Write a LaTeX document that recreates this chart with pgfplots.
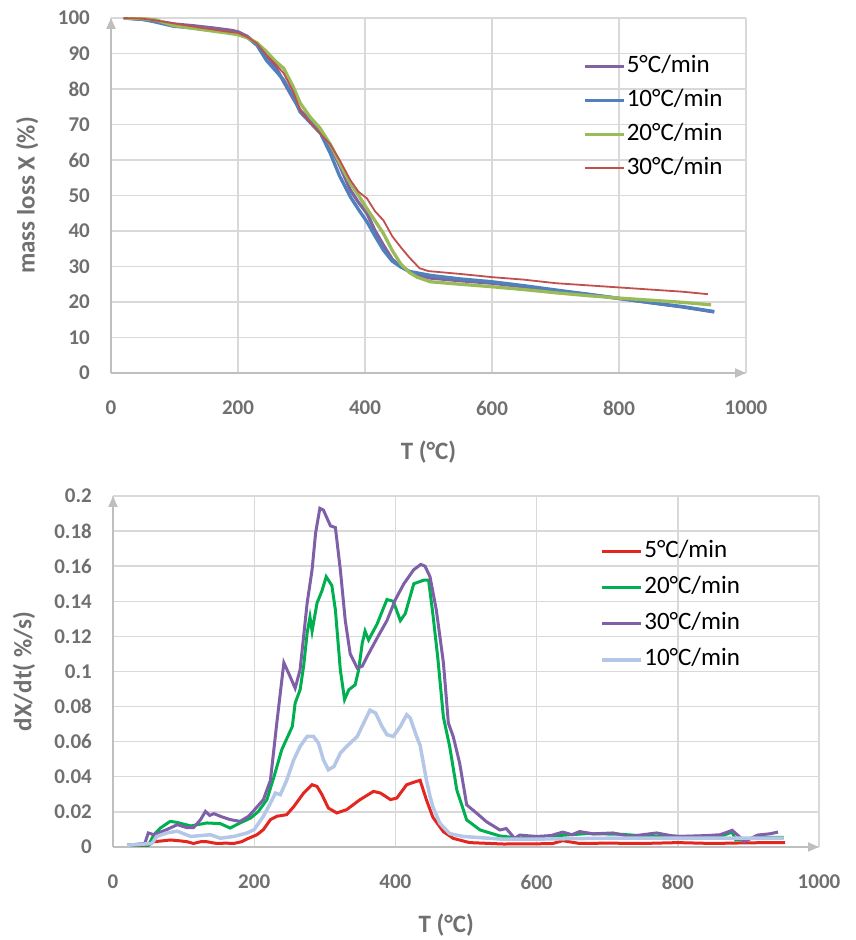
\documentclass[border=0pt]{standalone}
\usepackage{fontspec}
\setmainfont{Carlito}
\usepackage{pgfplots}
\pgfplotsset{compat=1.18}
\usetikzlibrary{arrows.meta}

\definecolor{tpurple}{HTML}{8064A2}
\definecolor{tblue}{HTML}{4F81BD}
\definecolor{tgreen}{HTML}{9BBB59}
\definecolor{tred}{HTML}{C0504D}
\definecolor{bred}{HTML}{E3261F}
\definecolor{bgreen}{HTML}{00B050}
\definecolor{bpurple}{HTML}{7F60A8}
\definecolor{bblue}{HTML}{B4C7E7}
\definecolor{axgray}{HTML}{BFBFBF}
\definecolor{gridgray}{HTML}{D9D9D9}
\definecolor{txtgray}{HTML}{707070}

\pgfplotsset{
  excel/.style={
    scale only axis,
    axis lines*=left,
    axis line style={draw=axgray, line width=2pt, -{Triangle[length=11pt,width=9pt]}},
    grid=major,
    grid style={draw=gridgray, line width=1.4pt},
    major tick length=0pt,
    xmin=0, xmax=1000,
    xtick={0,200,...,1000},
    scaled ticks=false,
    /pgf/number format/.cd, fixed, 1000 sep={}, assume math mode=true,
    /pgfplots/.cd,
    tick label style={font=\fontsize{21}{25}\selectfont\bfseries, text=txtgray},
    xticklabel style={anchor=center, yshift=-35pt},
    yticklabel style={anchor=east, inner sep=0pt, xshift=-21pt},
    label style={font=\fontsize{25}{30}\selectfont\bfseries, text=txtgray},
    legend image code/.code={\draw[##1] (0pt,0pt) -- (39pt,0pt);},
    legend cell align=left,
  }
}

\begin{document}
\begin{tikzpicture}
\useasboundingbox (0,0) rectangle (856pt,940pt);

% top: mass loss
\begin{axis}[excel,
  at={(111pt,567pt)}, anchor=south west,
  width=635pt, height=355pt,
  ymin=0, ymax=100, ytick={0,10,...,100},
  xlabel={T (°C)}, ylabel={mass loss X (\%)},
  xlabel style={at={(axis description cs:0.5,-0.2225)}, anchor=center},
  ylabel style={at={(axis description cs:-0.132,0.5)}, anchor=center},
  legend style={draw=none, fill=none, inner sep=0pt,
    at={(axis description cs:0.743,0.90)}, anchor=north west,
    font=\fontsize{25}{30}\selectfont, text=black,
    nodes={inner sep=1.5pt, text height=17pt, text depth=5pt},
    row sep=9pt},
]
\addplot[tpurple, line width=3.3pt] coordinates {
(20,100) (50,99.6) (80,98.9) (100,98.3) (130,97.8) (160,97.2) (190,96.5) (200,96.1)
(215,94.8) (230,92.5) (245,89.5) (260,86) (272,82) (287,77.3) (298,74) (314,71)
(330,67.8) (345,64) (360,58.5) (377,51.5) (390,48) (403,45) (416,40) (429,36)
(443,32) (456,30) (470,28.6) (486,27.3) (500,26.8) (550,26) (600,25.3) (650,24.3)
(700,23.2) (750,22.2) (800,21) (850,19.8) (900,18.6) (950,17.2)};
\addplot[tblue, line width=3.3pt] coordinates {
(20,100) (50,99.6) (67,99) (98,97.7) (140,97) (182,96) (200,95.6) (215,94.5)
(230,92.3) (245,88) (260,85) (272,82.5) (287,77.8) (298,73.5) (314,70.5) (330,67.5)
(345,62) (360,55.5) (377,49.6) (390,46) (403,42.6) (416,38.5) (429,34.6) (443,31.5)
(456,29.9) (470,28.6) (482,28.2) (503,27.5) (550,26.5) (600,25.7) (650,24.6) (700,23.4)
(750,22.2) (800,21) (850,19.8) (900,18.7) (950,17.3)};
\addplot[tgreen, line width=3.3pt] coordinates {
(20,100) (50,99.8) (70,99.5) (98,97.9) (140,96.8) (182,95.8) (200,95.3) (215,94.4)
(230,93) (245,90.5) (258,88) (272,85.8) (287,80.6) (298,76) (314,72) (329,69)
(345,64.5) (350,62.8) (365,57.5) (377,53.4) (390,50) (403,46.3) (416,42.8) (429,39.3)
(443,34.5) (456,30.8) (470,28.3) (482,27) (503,25.7) (550,25) (600,24.3) (650,23.5)
(700,22.6) (750,21.8) (800,21.1) (850,20.5) (900,19.9) (945,19.2)};
\addplot[tred, line width=1.8pt] coordinates {
(20,100) (50,99.8) (67,99.4) (98,98.5) (140,97.3) (182,96.2) (200,95.8) (215,94.6)
(230,92.8) (245,89.5) (260,86.8) (272,84.4) (287,79.2) (298,74) (314,70.5) (329,67.5)
(345,64.5) (360,60) (377,54.3) (390,51) (403,49.2) (416,45.5) (429,43) (443,38.5)
(456,35.5) (470,32.5) (486,29.5) (500,28.7) (550,27.9) (600,27) (650,26.3) (700,25.3)
(750,24.7) (800,24.1) (850,23.5) (900,22.9) (940,22.2)};
\legend{5°C/min, 10°C/min, 20°C/min, 30°C/min}
\end{axis}

% bottom: rate
\begin{axis}[excel,
  at={(113pt,93pt)}, anchor=south west,
  width=706pt, height=351pt,
  ymin=0, ymax=0.2, ytick={0,0.02,...,0.2},
  yticklabels={0,0.02,0.04,0.06,0.08,0.1,0.12,0.14,0.16,0.18,0.2},
  xlabel={T (°C)}, ylabel={dX/dt( \%/s)},
  xlabel style={at={(axis description cs:0.472,-0.222)}, anchor=center},
  ylabel style={at={(axis description cs:-0.126,0.5)}, anchor=center},
  legend style={draw=none, fill=none, inner sep=0pt,
    at={(axis description cs:0.69,0.877)}, anchor=north west,
    font=\fontsize{25}{30}\selectfont, text=black,
    nodes={inner sep=1.5pt, text height=17pt, text depth=5pt},
    row sep=11pt},
]
\addplot[bred, line width=3pt] coordinates {
(20,0.0005) (40,0.0008) (50,0.001) (58,0.003) (70,0.0035) (81,0.004) (95,0.0035) (105,0.003)
(114,0.002) (124,0.003) (133,0.003) (147,0.002) (160,0.0022) (171,0.002) (182,0.003) (190,0.0046)
(204,0.007) (213,0.0099) (223,0.0156) (232,0.0175) (246,0.0184) (256,0.023) (270,0.0307) (282,0.0355)
(289,0.0345) (296,0.0298) (305,0.0222) (317,0.0194) (331,0.0213) (350,0.027) (369,0.0317) (379,0.0307)
(393,0.027) (402,0.0279) (416,0.0355) (430,0.0374) (435,0.038) (444,0.0268) (453,0.017) (468,0.0087)
(482,0.0049) (505,0.0025) (553,0.0017) (600,0.0018) (623,0.002) (637,0.0036) (661,0.002) (700,0.0022)
(750,0.002) (800,0.0025) (850,0.002) (900,0.0024) (952,0.0025)};
\addplot[bgreen, line width=3pt] coordinates {
(20,0.001) (50,0.001) (58,0.007) (67,0.0108) (81,0.0146) (91,0.014) (110,0.012) (133,0.0137)
(152,0.0133) (166,0.0108) (180,0.0137) (195,0.0165) (206,0.0203) (218,0.027) (228,0.040) (239,0.0554)
(254,0.0687) (258,0.082) (265,0.0896) (270,0.103) (275,0.122) (279,0.131) (282,0.123) (289,0.139)
(296,0.146) (302,0.154) (310,0.149) (315,0.135) (322,0.101) (328,0.084) (334,0.0896) (343,0.0924)
(348,0.101) (353,0.116) (357,0.123) (362,0.118) (374,0.127) (388,0.141) (397,0.140) (407,0.129)
(414,0.133) (426,0.150) (440,0.152) (447,0.152) (453,0.133) (460,0.108) (468,0.074) (477,0.057)
(487,0.0325) (501,0.0154) (520,0.0097) (548,0.0063) (576,0.005) (623,0.0063) (670,0.0076) (717,0.0073)
(764,0.006) (811,0.006) (860,0.006) (877,0.0085) (882,0.004) (920,0.0055) (950,0.0055)};
\addplot[bpurple, line width=3pt] coordinates {
(20,0.001) (45,0.002) (50,0.008) (58,0.007) (76,0.0099) (91,0.0127) (105,0.011) (114,0.011)
(124,0.0156) (131,0.0203) (137,0.018) (143,0.019) (152,0.0175) (166,0.0156) (180,0.0146) (192,0.0175)
(200,0.021) (213,0.027) (223,0.038) (232,0.0706) (242,0.105) (251,0.097) (258,0.0905) (265,0.101)
(275,0.139) (282,0.158) (287,0.179) (293,0.193) (298,0.192) (308,0.183) (315,0.182) (322,0.158)
(329,0.129) (336,0.11) (346,0.102) (353,0.103) (360,0.1086) (374,0.119) (388,0.129) (400,0.141)
(412,0.150) (426,0.158) (436,0.161) (442,0.16) (449,0.154) (458,0.135) (468,0.105) (475,0.0707)
(482,0.0628) (491,0.0478) (501,0.024) (515,0.0193) (529,0.0144) (548,0.0097) (557,0.0105) (569,0.0049)
(576,0.0068) (600,0.006) (620,0.0065) (637,0.0085) (650,0.007) (661,0.0088) (680,0.0075) (708,0.008)
(732,0.006) (750,0.007) (770,0.008) (790,0.0065) (803,0.006) (840,0.0065) (860,0.007) (877,0.0095)
(887,0.006) (894,0.003) (913,0.0068) (930,0.0075) (942,0.0085)};
\addplot[bblue, line width=3.5pt] coordinates {
(20,0.001) (55,0.002) (62,0.006) (76,0.008) (91,0.009) (110,0.006) (138,0.007) (152,0.005)
(171,0.006) (190,0.008) (200,0.0099) (213,0.0175) (223,0.025) (230,0.0307) (237,0.0298) (246,0.038)
(256,0.0497) (265,0.0573) (275,0.063) (284,0.063) (291,0.0592) (298,0.0497) (305,0.044) (313,0.0459)
(322,0.0535) (331,0.0573) (346,0.063) (355,0.0706) (364,0.078) (372,0.0763) (381,0.0687) (388,0.064)
(397,0.063) (407,0.0687) (416,0.0754) (421,0.0735) (430,0.063) (435,0.058) (444,0.038) (449,0.029)
(453,0.023) (463,0.0135) (477,0.0076) (496,0.006) (550,0.0045) (600,0.0045) (700,0.005) (800,0.005)
(900,0.005) (950,0.005)};
\legend{5°C/min, 20°C/min, 30°C/min, 10°C/min}
\end{axis}
\end{tikzpicture}
\end{document}
